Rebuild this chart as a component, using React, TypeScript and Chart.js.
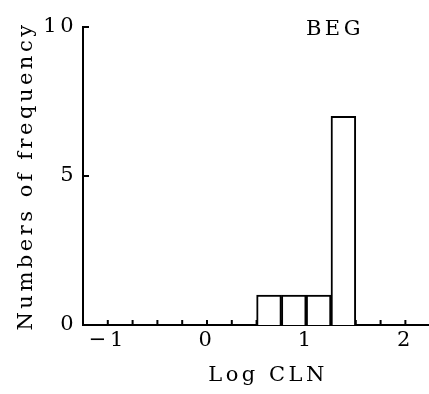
import { useEffect, useRef } from 'react';
import { Chart, registerables } from 'chart.js';

Chart.register(...registerables);

// Histogram bins (centres, width 0.25 in log units) and their counts
const binCenters = [-1.125, -0.875, -0.625, -0.375, -0.125, 0.125, 0.375, 0.625, 0.875, 1.125, 1.375, 1.625, 1.875, 2.125, 2.375];
const binCounts = [0, 0, 0, 0, 0, 0, 0, 1, 1, 1, 7, 0, 0, 0, 0];

// Axis ticks
const xTickValues = [-1, 0, 1, 2];
const xMinorTicks = [-1, -0.75, -0.5, -0.25, 0, 0.25, 0.5, 0.75, 1, 1.25, 1.5, 1.75, 2];
const yTickValues = [0, 5, 10];
const yMarkTicks = [5, 10];

// Texts
const panelLabel = 'BEG';
const xTitle = 'Log CLN';
const yTitle = 'Numbers of frequency';

const FONT = '"DejaVu Serif", "Liberation Serif", serif';
const SPACING = '3.5px';

export default function App() {
  const ref = useRef<HTMLCanvasElement | null>(null);

  useEffect(() => {
    if (!ref.current) return;
    Chart.defaults.font.family = FONT;
    Chart.defaults.color = '#000';

    const decor = {
      id: 'decor',
      beforeLayout(chart: any) {
        (chart.ctx as any).letterSpacing = SPACING;
      },
      beforeDraw(chart: any) {
        (chart.ctx as any).letterSpacing = SPACING;
      },
      beforeDatasetsDraw(chart: any) {
        const { ctx, scales } = chart;
        const x = scales.x;
        const y = scales.y;
        const y0 = y.getPixelForValue(0);
        ctx.save();
        ctx.strokeStyle = '#000';
        ctx.lineWidth = 2;
        ctx.beginPath();
        xMinorTicks.forEach((v) => {
          const px = x.getPixelForValue(v);
          ctx.moveTo(px, y0);
          ctx.lineTo(px, y0 - 5);
        });
        yMarkTicks.forEach((v) => {
          const py = y.getPixelForValue(v);
          ctx.moveTo(x.left, py);
          ctx.lineTo(x.left + 6, py);
        });
        ctx.stroke();
        ctx.restore();
      },
      afterDraw(chart: any) {
        const { ctx, scales } = chart;
        ctx.save();
        ctx.fillStyle = '#000';
        ctx.font = '21px ' + FONT;
        (ctx as any).letterSpacing = SPACING;
        ctx.textAlign = 'center';
        ctx.textBaseline = 'middle';
        ctx.fillText(panelLabel, scales.x.getPixelForValue(1.29), scales.y.getPixelForValue(9.9));
        ctx.restore();
      },
    };

    const chart = new Chart(ref.current, {
      type: 'bar',
      data: {
        datasets: [
          {
            data: binCenters.map((c, i) => ({ x: c, y: binCounts[i] })),
            backgroundColor: '#fff',
            borderColor: '#000',
            borderWidth: 2,
            borderSkipped: 'bottom',
            barPercentage: 1,
            categoryPercentage: 1,
          },
        ],
      },
      options: {
        animation: false,
        responsive: true,
        maintainAspectRatio: false,
        layout: { padding: { top: 27, right: 0, left: 0, bottom: 0 } },
        plugins: { legend: { display: false }, tooltip: { enabled: false } },
        scales: {
          x: {
            type: 'linear',
            offset: false,
            min: -1.25,
            max: 2.48,
            afterBuildTicks: (s: any) => {
              s.ticks = xTickValues.map((v) => ({ value: v }));
            },
            afterFit: (s: any) => {
              s.height = 69;
            },
            grid: { display: false, drawTicks: false, offset: false },
            border: { display: true, color: '#000', width: 2 },
            ticks: {
              color: '#000',
              font: { size: 21 },
              padding: 3,
              maxRotation: 0,
              autoSkip: false,
              callback: (v: any) => (Number(v) < 0 ? '\u2212' + Math.abs(Number(v)) : String(v)),
            },
            title: { display: true, text: xTitle, color: '#000', font: { size: 21 }, padding: { top: 0, bottom: 6 } },
          },
          y: {
            type: 'linear',
            min: 0,
            max: 10,
            afterBuildTicks: (s: any) => {
              s.ticks = yTickValues.map((v) => ({ value: v }));
            },
            afterFit: (s: any) => {
              s.width = 83;
            },
            grid: { display: false, drawTicks: false },
            border: { display: true, color: '#000', width: 2 },
            ticks: { color: '#000', font: { size: 21 }, padding: 6 },
            title: { display: true, text: yTitle, color: '#000', font: { size: 21 }, padding: { top: 14, bottom: 0 } },
          },
        },
      },
      plugins: [decor],
    } as any);

    return () => chart.destroy();
  }, []);

  return (
    <div style={{ position: 'fixed', left: 0, top: 0, width: 429, height: 394, overflow: 'hidden', background: '#fff' }}>
      <div style={{ position: 'relative', width: 453, height: 394 }}>
        <canvas ref={ref} />
      </div>
    </div>
  );
}
